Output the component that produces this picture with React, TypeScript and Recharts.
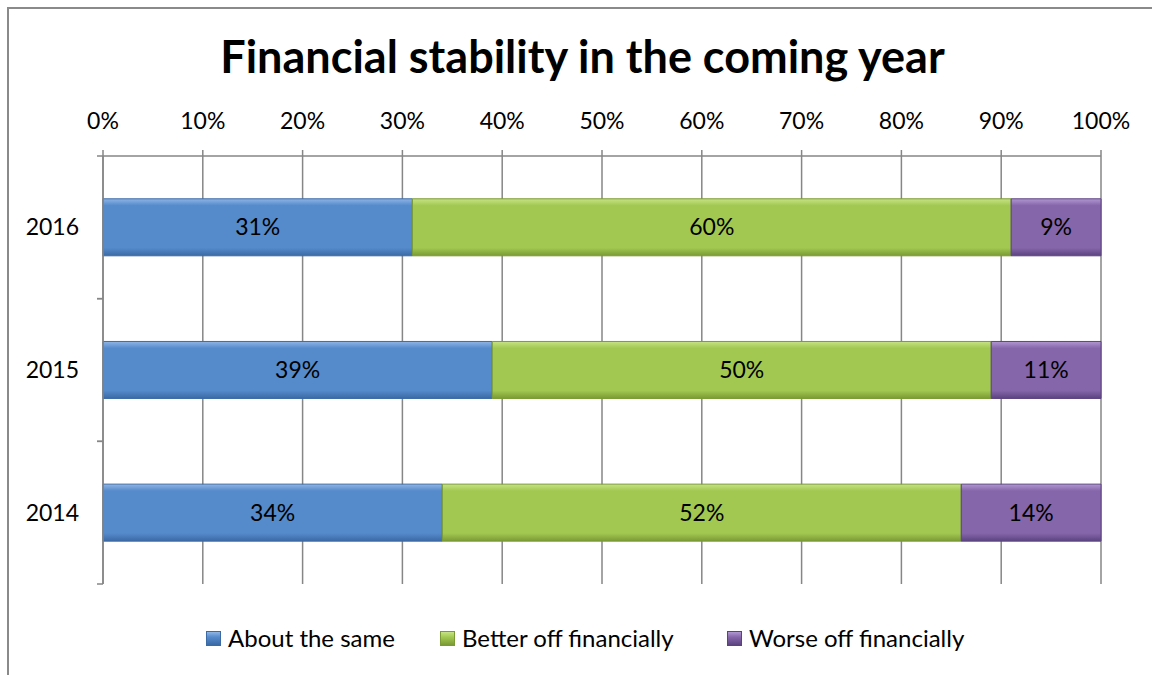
import { BarChart, Bar, XAxis, YAxis, CartesianGrid, LabelList } from 'recharts';

const years = ['2016', '2015', '2014'];
const aboutSame = [0.31, 0.39, 0.34];
const betterOff = [0.60, 0.50, 0.52];
const worseOff = [0.09, 0.11, 0.14];
const xTicks = [0, 0.1, 0.2, 0.3, 0.4, 0.5, 0.6, 0.7, 0.8, 0.9, 1];

const series = [
  { key: 'same', name: 'About the same', light: '#8fb5e6', main: '#558acb', dark: '#3b6aa5', legendX: 206 },
  { key: 'better', name: 'Better off financially', light: '#c6e384', main: '#a2c851', dark: '#7a9a33', legendX: 440 },
  { key: 'worse', name: 'Worse off financially', light: '#b197d2', main: '#8566aa', dark: '#5c4380', legendX: 727 },
];

const data = years.map((year, i) => ({
  year,
  same: aboutSame[i],
  better: betterOff[i],
  worse: worseOff[i],
}));

const FONT = 'Lato, "Open Sans", sans-serif';
const GRID = '#868686';
const pct = (v: any) => `${Math.round(Number(v) * 100)}%`;

// category label plus the small ticks at the band edges (Excel puts them between categories)
const YearTick = (props: any) => {
  const { x, y, payload } = props;
  const half = payload && payload.offset ? payload.offset : 71.3;
  const ax = x + 24;
  return (
    <g>
      <line x1={ax - 6} x2={ax} y1={y - half} y2={y - half} stroke={GRID} strokeWidth={1.5} />
      <line x1={ax - 6} x2={ax} y1={y + half} y2={y + half} stroke={GRID} strokeWidth={1.5} />
      <text x={x} y={y} dy={8} textAnchor="end" fontSize={23} fontFamily={FONT} fill="#000">
        {payload.value}
      </text>
    </g>
  );
};

export default function App() {
  return (
    <div style={{ position: 'fixed', left: 0, top: 0, width: 1152, height: 675, background: '#fff', fontFamily: FONT, overflow: 'hidden' }}>
      <div style={{ position: 'absolute', left: 7, top: 7, width: 1200, height: 700, borderLeft: '2px solid #8a8a8a', borderTop: '2px solid #8a8a8a' }} />
      <div style={{ position: 'absolute', left: 0, top: 26, width: 1165, textAlign: 'center', fontSize: 45, fontWeight: 700, color: '#000', lineHeight: '60px' }}>
        Financial stability in the coming year
      </div>
      <BarChart
        width={1152}
        height={675}
        data={data}
        layout="vertical"
        barCategoryGap="30%"
        margin={{ top: 86, right: 51, left: 0, bottom: 91 }}
        style={{ position: 'absolute', left: 0, top: 0 }}
      >
        <defs>
          {series.map((s) => (
            <linearGradient key={s.key} id={`g-${s.key}`} x1="0" y1="0" x2="0" y2="1">
              <stop offset="0" stopColor={s.light} />
              <stop offset="0.12" stopColor={s.main} />
              <stop offset="0.86" stopColor={s.main} />
              <stop offset="1" stopColor={s.dark} />
            </linearGradient>
          ))}
        </defs>
        <CartesianGrid horizontal={false} stroke={GRID} strokeWidth={1.5} />
        <XAxis
          type="number"
          orientation="top"
          domain={[0, 1]}
          ticks={xTicks}
          tickFormatter={pct}
          height={70}
          tickSize={6}
          tickMargin={21}
          axisLine={{ stroke: GRID, strokeWidth: 1.5 }}
          tickLine={{ stroke: GRID, strokeWidth: 1.5 }}
          tick={{ fill: '#000', fontSize: 23, fontFamily: FONT }}
          interval={0}
        />
        <YAxis
          type="category"
          dataKey="year"
          width={103}
          axisLine={{ stroke: GRID, strokeWidth: 1.5 }}
          tickLine={false}
          tickSize={0}
          tickMargin={24}
          tick={<YearTick />}
        />
        {series.map((s) => (
          <Bar
            key={s.key}
            dataKey={s.key}
            name={s.name}
            stackId="a"
            fill={`url(#g-${s.key})`}
            stroke={s.dark}
            strokeWidth={1}
            isAnimationActive={false}
          >
            <LabelList dataKey={s.key} position="center" formatter={pct} fill="#000" fontSize={23} fontFamily={FONT} />
          </Bar>
        ))}
      </BarChart>
      {series.map((s) => (
        <div
          key={s.key}
          style={{ position: 'absolute', left: s.legendX, top: 622, display: 'flex', alignItems: 'center', fontSize: 24, color: '#000', lineHeight: '32px', whiteSpace: 'nowrap' }}
        >
          <span
            style={{
              display: 'inline-block',
              width: 13,
              height: 13,
              marginRight: 7,
              background: `linear-gradient(${s.light}, ${s.main} 40%, ${s.dark})`,
              border: `1px solid ${s.dark}`,
            }}
          />
          <span>{s.name}</span>
        </div>
      ))}
    </div>
  );
}
